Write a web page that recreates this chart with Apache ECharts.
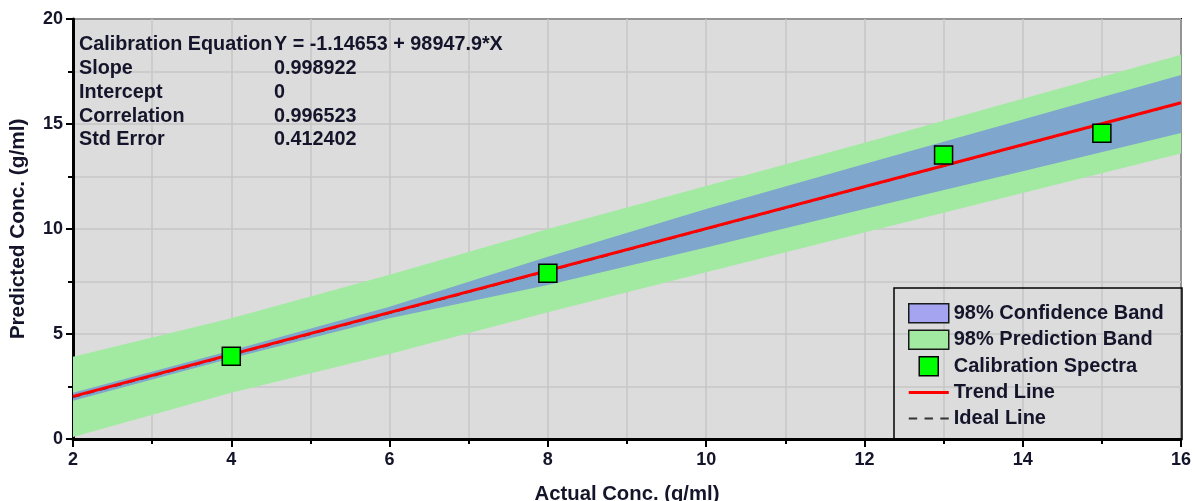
<!DOCTYPE html>
<html><head><meta charset="utf-8">
<script src="https://cdn.jsdelivr.net/npm/echarts@6/dist/echarts.min.js"></script>
<style>html,body{margin:0;padding:0;background:#fff}#c{width:1195px;height:501px}</style>
</head><body><div id="c"></div>
<script>
// ---- data ----
const bandX      = [2, 4, 6, 8, 10, 12, 14, 16];
const predUpper  = [3.92, 5.75, 7.82, 10.0, 12.05, 14.11, 16.2, 18.3];
const predLower  = [0.1, 2.2, 4.05, 6.03, 7.94, 9.83, 11.72, 13.6];
const confUpper  = [2.2, 4.22, 6.3, 8.68, 10.95, 13.1, 15.22, 17.33];
const confLower  = [1.82, 3.85, 5.75, 7.33, 9.12, 10.95, 12.75, 14.57];
const spectraX   = [4, 8, 13, 15];
const spectraY   = [3.94, 7.89, 13.52, 14.56];
const trendX     = [2, 16];
const trendY     = [2.03, 16.01];
const idealX     = [2, 16];
const idealY     = [2, 16];
const xTicks     = [2, 4, 6, 8, 10, 12, 14, 16];
const yTicks     = [0, 5, 10, 15, 20];
const statLabels = ['Calibration Equation', 'Slope', 'Intercept', 'Correlation', 'Std Error'];
const statValues = ['Y = -1.14653 + 98947.9*X', '0.998922', '0', '0.996523', '0.412402'];
const legendNames = ['98% Confidence Band', '98% Prediction Band', 'Calibration Spectra', 'Trend Line', 'Ideal Line'];

// ---- build ----
const FONT = 'Liberation Sans, Arial, sans-serif';
const TXT = '#14142a';
const zip = (xs, ys) => xs.map((x, i) => [x, ys[i]]);
const bandRows = (lo, up) => bandX.map((x, i) => [x, lo[i], up[i]]);

function bandRenderer(fill) {
  return function (params, api) {
    if (params.dataIndex !== 0) return null;
    const n = params.dataInsideLength;
    const top = [], bot = [];
    for (let i = 0; i < n; i++) {
      top.push(api.coord([api.value(0, i), api.value(2, i)]));
      bot.push(api.coord([api.value(0, i), api.value(1, i)]));
    }
    return {type: 'polygon', shape: {points: top.concat(bot.reverse())},
      style: {fill: fill, stroke: null}, silent: true};
  };
}

const chart = echarts.init(document.getElementById('c'), null, {renderer: 'canvas'});

const statGraphics = [];
statLabels.forEach((s, i) => {
  const y = 45 + i * 23.7;
  statGraphics.push({type: 'text', z: 10, style: {x: 79, y: y, text: s, fill: TXT,
    font: 'bold 19.8px ' + FONT, verticalAlign: 'middle'}});
  statGraphics.push({type: 'text', z: 10, style: {x: 274, y: y, text: statValues[i], fill: TXT,
    font: 'bold 19.8px ' + FONT, verticalAlign: 'middle'}});
});

const gridLine = {color: '#c6c6c6', width: 1.5};
const tickStyle = {color: '#000', width: 2};
const labelStyle = {fontFamily: FONT, fontWeight: 'bold', fontSize: 18, color: TXT};
const nameStyle = {fontFamily: FONT, fontWeight: 'bold', fontSize: 20.3, color: TXT};

chart.setOption({
  animation: false,
  backgroundColor: '#fff',
  grid: {left: 73, right: 14, top: 19, bottom: 62, show: true, backgroundColor: '#dcdcdc',
    borderColor: '#000', borderWidth: 2, containLabel: false, outerBoundsMode: 'none'},
  xAxis: {
    type: 'value', min: 2, max: 16, interval: 2,
    name: 'Actual Conc. (g/ml)', nameLocation: 'middle', nameGap: 45,
    nameTextStyle: nameStyle,
    axisLine: {show: true, onZero: false, lineStyle: {color: '#000', width: 3}},
    axisTick: {show: true, length: 8, lineStyle: tickStyle},
    minorTick: {show: true, splitNumber: 2, length: 5, lineStyle: tickStyle},
    splitLine: {show: true, lineStyle: gridLine},
    minorSplitLine: {show: true, lineStyle: gridLine},
    axisLabel: Object.assign({margin: 12, formatter: v => xTicks.includes(v) ? String(v) : ''}, labelStyle)
  },
  yAxis: {
    type: 'value', min: 0, max: 20, interval: 5,
    name: 'Predicted Conc. (g/ml)', nameLocation: 'middle', nameGap: 44,
    nameTextStyle: Object.assign({}, nameStyle, {fontSize: 20.8}),
    axisLine: {show: true, onZero: false, lineStyle: {color: '#000', width: 3}},
    axisTick: {show: true, length: 7, lineStyle: tickStyle},
    minorTick: {show: true, splitNumber: 2, length: 5, lineStyle: tickStyle},
    splitLine: {show: true, lineStyle: gridLine},
    minorSplitLine: {show: true, lineStyle: gridLine},
    axisLabel: Object.assign({margin: 10, formatter: v => yTicks.includes(v) ? String(v) : ''}, labelStyle)
  },
  legend: {
    orient: 'vertical', left: 908, top: 303, padding: 0,
    itemWidth: 40, itemHeight: 19, itemGap: 6, selectedMode: false,
    textStyle: {fontFamily: FONT, fontWeight: 'bold', fontSize: 20, color: TXT, lineHeight: 19},
    data: [
      {name: legendNames[0], icon: 'rect', itemStyle: {color: '#a4a4f0', borderColor: '#1a1a1a', borderWidth: 1.5}},
      {name: legendNames[1], icon: 'rect', itemStyle: {color: '#a2eaa2', borderColor: '#1a1a1a', borderWidth: 1.5}},
      {name: legendNames[2], icon: 'path://M0,0H1V1H0Z', itemStyle: {color: '#00ff00', borderColor: '#000', borderWidth: 1.5}},
      {name: legendNames[3], icon: 'path://M0,0H40V3.2H0Z', itemStyle: {color: '#ff0000', borderWidth: 0}},
      {name: legendNames[4], icon: 'path://M0,0H8V2H0Z M15,0H23V2H15Z M30,0H38V2H30Z', itemStyle: {color: '#333', borderWidth: 0}}
    ]
  },
  graphic: [
    {type: 'rect', z: 5, silent: true, shape: {x: 894, y: 288, width: 288, height: 151},
      style: {fill: 'none', stroke: '#000', lineWidth: 1.5}}
  ].concat(statGraphics),
  series: [
    {name: legendNames[1], type: 'custom', renderItem: bandRenderer('#a2eaa2'),
      data: bandRows(predLower, predUpper), encode: {x: 0, y: [1, 2]},
      itemStyle: {color: '#a2eaa2'}, silent: true, z: 1},
    {name: legendNames[0], type: 'custom', renderItem: bandRenderer('#7fa6cc'),
      data: bandRows(confLower, confUpper), encode: {x: 0, y: [1, 2]},
      itemStyle: {color: '#7fa6cc'}, silent: true, z: 2},
    {name: legendNames[4], type: 'line', data: zip(idealX, idealY), symbol: 'none',
      lineStyle: {color: '#333', width: 2, type: [8, 6]}, itemStyle: {color: '#333'}, z: 3},
    {name: legendNames[3], type: 'line', data: zip(trendX, trendY), symbol: 'none',
      lineStyle: {color: '#ff0000', width: 3}, itemStyle: {color: '#ff0000'}, z: 4},
    {name: legendNames[2], type: 'scatter', data: zip(spectraX, spectraY), symbol: 'path://M0,0H1V1H0Z',
      symbolSize: 18, itemStyle: {color: '#00ff00', borderColor: '#000', borderWidth: 1.5, opacity: 1}, z: 5}
  ]
});
</script></body></html>
